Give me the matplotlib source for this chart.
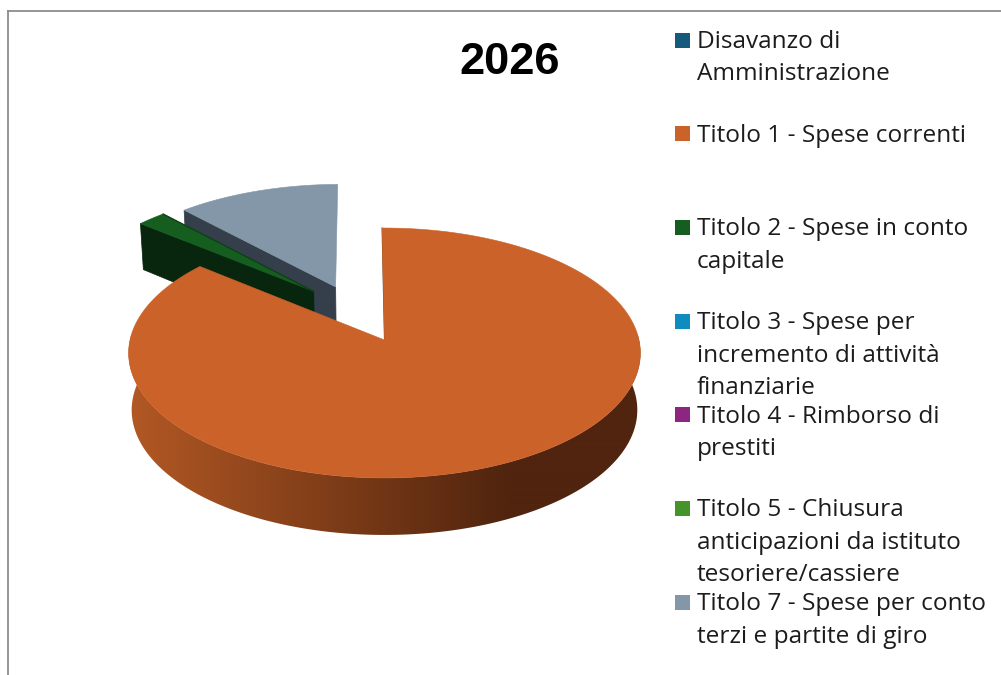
import numpy as np
import matplotlib
matplotlib.use("Agg")
import matplotlib.pyplot as plt
from matplotlib.colors import LinearSegmentedColormap
from matplotlib.patches import Polygon, Rectangle

title = "2026"
categories = [
    "Disavanzo di\nAmministrazione",
    "Titolo 1 - Spese correnti",
    "Titolo 2 - Spese in conto\ncapitale",
    "Titolo 3 - Spese per\nincremento di attività\nfinanziarie",
    "Titolo 4 - Rimborso di\nprestiti",
    "Titolo 5 - Chiusura\nanticipazioni da istituto\ntesoriere/cassiere",
    "Titolo 7 - Spese per conto\nterzi e partite di giro",
]
values = [0.0, 86.1, 2.1, 0.0, 0.0, 0.0, 11.8]

colors = ["#155a7a", "#ca6229", "#165e20", "#0e8cbd", "#8c2681", "#44942a", "#8497a9"]
wall_colors = ["#0b3042", "#50240e", "#08250e", "#07465e", "#461340", "#224a15", "#343f4b"]
# how far each slice is pulled out of the pie, in units of the radius
explode = [(0, 0), (0, 0), (-0.29, 0.41), (0, 0), (0, 0), (0, 0), (-0.201, 0.449)]
first_angle = -0.6

# pie projection, in pixels
CX, CY = 384.5, 340
A, B = 254.5, 123.6
K = 0.104
DEPTH = 51
FRONT_DEPTH = 57


def project(u, v, h=0.0):
    s = 1 / (1 + K * v)
    shrink = 1 - 0.012 * min(h / DEPTH, 1)
    return CX + A * u * s * shrink, CY - B * v * s + h * s


def rim(theta, off, h=0.0):
    t = np.radians(theta)
    return project(np.sin(t) + off[0], np.cos(t) + off[1], h)


def rim_front(theta):
    # lower edge of the big slice's outer wall
    x, y = rim(theta, (0, 0), DEPTH)
    return x, rim(theta, (0, 0))[1] + FRONT_DEPTH


fig = plt.figure(figsize=(10.01, 6.75), dpi=100)
ax = fig.add_axes([0, 0, 1, 1])
ax.axis("off")

# thin frame of the pasted chart
ax.plot([7.5, 7.5], [675, 11], color="#8c8c8c", lw=1.3)
ax.plot([7.5, 1001], [11, 11], color="#8c8c8c", lw=1.3)

ends = first_angle + np.cumsum(values) / np.sum(values) * 360
starts = ends - np.array(values) / np.sum(values) * 360
order = [6, 2, 1]  # back to front

wall_cmap = LinearSegmentedColormap.from_list("wall", ["#b25824", "#50240e"])

for i in order:
    start, end, off = starts[i], ends[i], explode[i]
    thetas = np.linspace(start, end, 300)
    apex = project(off[0], off[1])

    if i == 1:
        # outer wall, shaded from left to right
        front = thetas[(thetas > 80) & (thetas < 280)]
        outline = [rim(t, off) for t in front] + [rim_front(t) for t in front[::-1]]
        clip = Polygon(outline, transform=ax.transData, fc="none", ec="none")
        ax.add_patch(clip)
        im = ax.imshow(np.clip((np.arange(120, 650) - 130) / 380, 0, 1)[None, :], cmap=wall_cmap,
                       extent=(120, 650, 545, 335), aspect="auto", zorder=3, interpolation="bilinear")
        im.set_clip_path(clip)
    else:
        # cut face on the left side of the slice
        wall = [apex, rim(start, off), rim(start, off, DEPTH), project(off[0], off[1], DEPTH)]
        ax.add_patch(Polygon(wall, fc=wall_colors[i], ec=wall_colors[i], lw=0.5, zorder=order.index(i) * 2 + 1))

    top = [apex] + [rim(t, off) for t in thetas]
    ax.add_patch(Polygon(top, fc=colors[i], ec=colors[i], lw=0.4, zorder=order.index(i) * 2 + 2 + (i == 1) * 2))

    # dark hairline along the edge that faces the viewer
    if i == 1:
        p = rim(start, off)
        ax.plot([apex[0], p[0]], [apex[1], p[1]], color="#6b4a35", lw=0.8, zorder=7)
    elif i == 2:
        p = rim(end, off)
        ax.plot([apex[0], p[0]], [apex[1], p[1]], color="#0f3d16", lw=0.9, zorder=7)

ax.text(509.5, 62.5, title, family="Liberation Sans", weight="bold", fontsize=32.5,
        ha="center", va="center", color="#000000")

# legend, one entry every 93.7 px
for i, label in enumerate(categories):
    y = 40 + 93.7 * i
    ax.add_patch(Rectangle((675, y - 7.5), 15, 15, fc=colors[i], ec="none"))
    for j, line in enumerate(label.split("\n")):
        ax.text(697, y + 2 + 32.4 * j, line, family="Open Sans", fontsize=17.6,
                ha="left", va="center", color="#1c1c1c")

ax.set_xlim(0, 1001)
ax.set_ylim(675, 0)
fig.savefig("out.png", dpi=100)
